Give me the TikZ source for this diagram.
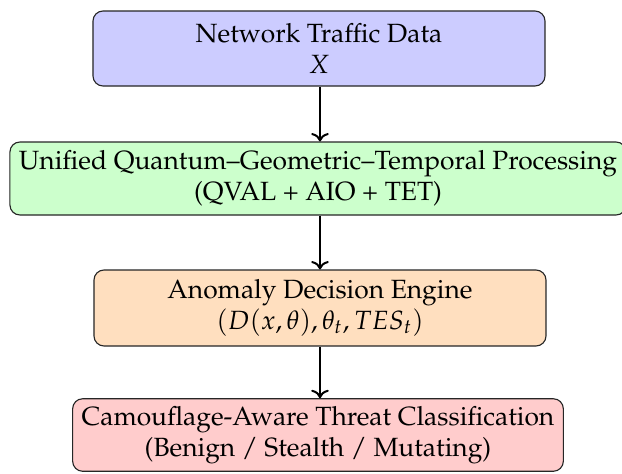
\documentclass[tikz,border=0pt]{standalone}
\usepackage[T1]{fontenc}
\usepackage{mathpazo}
\usetikzlibrary{arrows.meta}

\tikzset{
  stage/.style={draw=black!85, line width=0.45pt, rounded corners=4pt,
    align=center, minimum width=452*0.4pt, minimum height=73*0.4pt,
    inner xsep=9*0.4pt, inner ysep=3pt,
    font=\fontsize{10.55pt}{12.4pt}\selectfont},
  flow/.style={->, thick}
}

\begin{document}
\begin{tikzpicture}[x=0.4pt, y=-0.4pt]
  \useasboundingbox (0,0) rectangle (622,474);

  \node[stage, fill=blue!20, minimum height=75*0.4pt] (input) at (319,48.5)
    {Network Traffic Data\\ $X$};
  \node[stage, fill=green!20] (proc) at (318,178.5)
    {Unified Quantum--Geometric--Temporal Processing\\ (QVAL + AIO + TET)};
  \node[stage, fill=orange!25, minimum height=76*0.4pt] (decide) at (320,308)
    {Anomaly Decision Engine\\ $(D(x,\theta), \theta_t, TES_t)$};
  \node[stage, fill=red!20, minimum height=72*0.4pt] (classify) at (318,435)
    {Camouflage-Aware Threat Classification\\ (Benign / Stealth / Mutating)};

  \draw[flow] (input.south -| 320,0) -- (proc.north -| 320,0);
  \draw[flow] (proc.south -| 320,0) -- (decide.north -| 320,0);
  \draw[flow] (decide.south -| 320,0) -- (classify.north -| 320,0);
\end{tikzpicture}
\end{document}
